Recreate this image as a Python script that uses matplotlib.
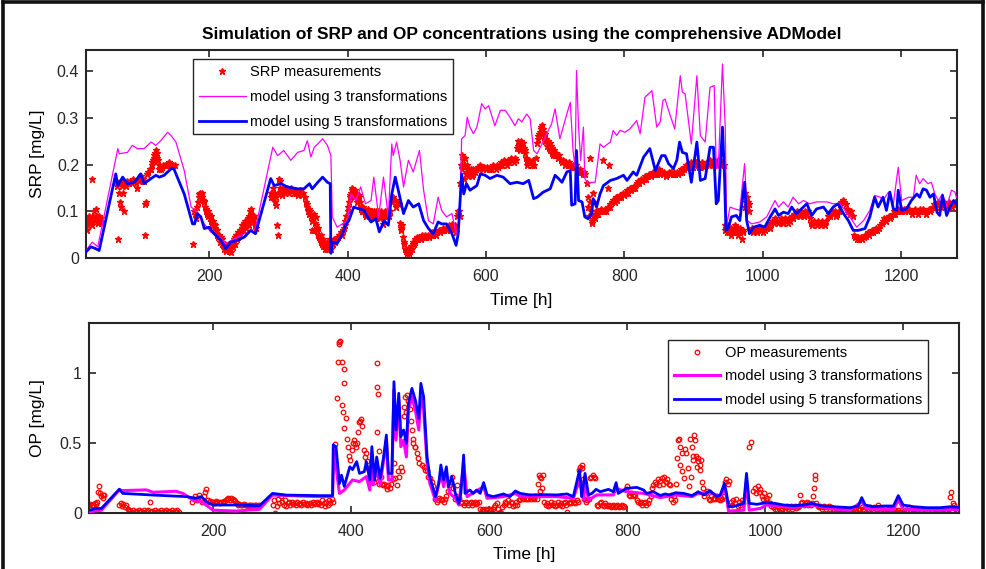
import numpy as np
import matplotlib
matplotlib.use("Agg")
import matplotlib.pyplot as plt
from matplotlib.lines import Line2D

plt.rcParams['font.family'] = ['Liberation Sans Narrow', 'Liberation Sans', 'DejaVu Sans']

# ---------------- data (time [h], value [mg/L]) ----------------
srp_measurements = [
(22,0.075),(23,0.06),(24,0.085),(25,0.07),(26,0.08),(27,0.09),(28,0.075),(29,0.085),(30,0.07),(31,0.17),(32,0.09),(33,0.085),(34,0.1),(35,0.08),(36,0.105),(37,0.085),(38,0.09),(39,0.075),(40,0.085),(41,0.09),(42,0.08),(43,0.075),(44,0.085),
(66,0.165),(67,0.155),(68,0.04),(69,0.14),(70,0.16),(71,0.12),(72,0.165),(73,0.11),(74,0.155),(75,0.16),(76,0.14),(77,0.1),(78,0.16),(80,0.155),(81,0.165),(82,0.16),(84,0.16),(86,0.165),(88,0.16),(90,0.17),(92,0.165),(94,0.16),(96,0.15),(98,0.165),(100,0.17),(102,0.175),(104,0.17),(106,0.165),(107,0.115),(108,0.05),(109,0.12),(110,0.18),(112,0.185),(114,0.19),(116,0.19),(117,0.2),(118,0.205),(119,0.21),(120,0.215),(121,0.22),(122,0.225),(123,0.23),(124,0.225),(125,0.215),(126,0.21),(127,0.2),(128,0.19),(130,0.19),(132,0.195),(134,0.2),(136,0.2),(138,0.2),(140,0.2),(142,0.205),(144,0.2),(146,0.2),(148,0.2),(150,0.2),
(176,0.03),(178,0.1),(180,0.095),(181,0.085),(182,0.11),(184,0.12),(185,0.13),(186,0.137),(187,0.14),(188,0.135),(189,0.14),(190,0.13),(191,0.125),(192,0.12),(193,0.123),(194,0.11),(195,0.1),(196,0.105),(197,0.095),(198,0.09),(199,0.1),(200,0.095),(201,0.085),(202,0.08),(203,0.09),(204,0.075),(205,0.07),(206,0.08),(207,0.073),(208,0.065),(209,0.07),(210,0.06),(211,0.05),(212,0.06),(213,0.045),(214,0.05),(215,0.04),(216,0.035),(217,0.045),(218,0.03),(219,0.04),(220,0.03),(221,0.025),(222,0.02),(223,0.03),(224,0.02),(225,0.015),(226,0.025),(227,0.02),(228,0.03),(229,0.015),(230,0.02),(231,0.013),(232,0.025),(234,0.024),(235,0.035),(236,0.04),(237,0.03),(238,0.045),(239,0.05),(240,0.04),(241,0.045),(242,0.055),(243,0.05),(244,0.06),(245,0.055),(246,0.06),(247,0.065),(248,0.07),(249,0.06),(250,0.075),(251,0.07),(252,0.08),(253,0.065),(254,0.075),(255,0.08),(256,0.085),(257,0.07),(258,0.09),(259,0.1),(260,0.105),(261,0.095),(262,0.08),(263,0.09),(264,0.085),(265,0.09),(266,0.075),(267,0.07),(268,0.065),
(289,0.13),(290,0.14),(291,0.135),(292,0.13),(293,0.15),(294,0.14),(295,0.12),(296,0.13),(297,0.113),(298,0.07),(299,0.05),(300,0.14),(301,0.17),(302,0.165),(303,0.15),(304,0.145),(305,0.14),(306,0.135),(307,0.15),(308,0.145),(310,0.14),(312,0.15),(314,0.145),(316,0.14),(318,0.15),(320,0.145),(322,0.14),(324,0.145),(326,0.14),(328,0.135),(330,0.14),(332,0.145),(334,0.135),(336,0.14),(338,0.13),(340,0.12),(341,0.11),(342,0.115),(343,0.1),(344,0.105),(345,0.095),(346,0.1),(347,0.09),(348,0.06),(349,0.08),(350,0.085),(351,0.095),(352,0.06),(353,0.075),(354,0.088),(355,0.07),(356,0.06),(357,0.05),(358,0.065),(359,0.045),(360,0.04),(361,0.05),(362,0.035),(363,0.03),(364,0.04),(365,0.025),(366,0.035),(367,0.02),(368,0.03),(369,0.025),(370,0.035),(371,0.02),(372,0.03),(373,0.025),(374,0.03),(375,0.04),(376,0.02),(377,0.03),(378,0.035),(379,0.03),(380,0.04),(382,0.035),(384,0.04),(386,0.045),(388,0.05),(390,0.055),(392,0.05),(394,0.06),(395,0.065),(396,0.07),(397,0.08),(398,0.09),(400,0.1),(401,0.11),(402,0.12),(403,0.13),(404,0.135),(405,0.14),(406,0.145),(407,0.15),(408,0.14),(409,0.135),(410,0.13),(411,0.145),(412,0.14),(413,0.13),(414,0.12),(415,0.125),(416,0.13),(417,0.135),(418,0.12),(419,0.11),(420,0.105),(421,0.1),(422,0.11),(423,0.1),(424,0.105),(425,0.095),(426,0.1),(427,0.09),(428,0.095),(429,0.1),(430,0.105),(431,0.09),(432,0.1),(433,0.095),(434,0.09),(435,0.1),(436,0.095),(437,0.09),(438,0.1),(439,0.09),(440,0.095),(441,0.1),(442,0.09),(443,0.095),(444,0.1),(445,0.095),(446,0.09),(447,0.085),(448,0.095),(449,0.1),(450,0.09),(451,0.095),(452,0.073),(453,0.09),(454,0.1),(455,0.095),(456,0.09),(457,0.1),(458,0.095),(460,0.09),(462,0.1),
(464,0.12),(466,0.13),(468,0.125),(470,0.11),(472,0.12),(474,0.115),(476,0.075),(477,0.065),(478,0.06),(479,0.07),(480,0.045),(481,0.035),(482,0.03),(483,0.02),(484,0.015),(485,0.02),(486,0.01),(487,0.015),(488,0.02),(489,0.01),(490,0.015),(491,0.02),(492,0.025),(493,0.02),(494,0.03),(495,0.035),(496,0.03),(497,0.04),(498,0.035),(499,0.04),(500,0.045),(502,0.04),(504,0.045),(506,0.04),(508,0.05),(510,0.045),(512,0.05),(514,0.045),(516,0.05),(518,0.045),(520,0.05),(522,0.055),(524,0.05),(526,0.055),(528,0.05),(530,0.055),(532,0.06),(534,0.055),(536,0.06),(538,0.065),(540,0.06),(542,0.065),(544,0.06),(546,0.07),(548,0.06),(550,0.065),(551,0.073),(552,0.06),(554,0.065),(556,0.07),(557,0.055),(558,0.09),(559,0.1),(560,0.095),(561,0.1),(562,0.09),
(563,0.16),(564,0.2),(565,0.22),(566,0.19),(567,0.21),(568,0.17),(569,0.2),(570,0.215),(571,0.18),(572,0.2),(573,0.19),(574,0.175),(575,0.185),(576,0.19),(577,0.18),(578,0.19),(579,0.185),(580,0.175),(581,0.18),(582,0.19),(584,0.185),(586,0.19),(588,0.195),(590,0.19),(592,0.2),(594,0.195),(596,0.19),(598,0.195),(600,0.19),(602,0.195),(604,0.19),(606,0.195),(608,0.19),(610,0.2),(612,0.195),(614,0.19),(616,0.2),(618,0.195),(620,0.2),(622,0.205),(624,0.2),(626,0.21),(628,0.205),(630,0.2),(632,0.21),(634,0.205),(636,0.215),(638,0.21),(640,0.205),(642,0.215),(644,0.21),(645,0.235),(646,0.24),(647,0.25),(648,0.235),(649,0.245),(650,0.23),(651,0.25),(652,0.24),(653,0.23),(654,0.245),(655,0.235),(656,0.23),(657,0.225),(658,0.215),(659,0.21),(660,0.2),(662,0.21),(664,0.205),(666,0.2),(668,0.21),(670,0.2),(672,0.215),(674,0.245),(675,0.255),(676,0.26),(677,0.265),(678,0.27),(679,0.275),(680,0.28),(681,0.285),(682,0.275),(683,0.27),(684,0.26),(685,0.265),(686,0.25),(687,0.255),(688,0.245),(689,0.24),(690,0.25),(691,0.235),(692,0.245),(693,0.23),(694,0.24),(695,0.225),(696,0.235),(697,0.22),(698,0.23),(699,0.225),(700,0.22),(702,0.225),(704,0.215),(706,0.22),(708,0.21),(710,0.205),(712,0.21),(714,0.2),(716,0.205),(718,0.2),(720,0.205),(722,0.2),(724,0.195),(726,0.2),(728,0.195),(730,0.2),(732,0.19),(734,0.185),(736,0.19),(738,0.185),(740,0.18),(742,0.185),(744,0.18),(746,0.16),(747,0.13),(748,0.11),(749,0.09),(750,0.215),(751,0.12),(752,0.1),(753,0.08),(754,0.075),(755,0.14),(756,0.09),(757,0.12),(758,0.085),(759,0.1),(760,0.095),
(761,0.1),(762,0.095),(764,0.1),(766,0.105),(768,0.1),(770,0.21),(771,0.1),(772,0.105),(774,0.1),(776,0.11),(777,0.15),(778,0.2),(779,0.11),(780,0.115),(782,0.12),(784,0.125),(786,0.12),(788,0.13),(790,0.125),(792,0.13),(794,0.135),(796,0.13),(798,0.14),(800,0.135),(802,0.14),(804,0.145),(806,0.14),(808,0.15),(810,0.145),(812,0.15),(814,0.155),(816,0.15),(818,0.16),(820,0.165),(822,0.16),(824,0.17),(826,0.165),(828,0.17),(830,0.175),(832,0.17),(834,0.175),(836,0.18),(838,0.175),(840,0.18),(842,0.185),(844,0.18),(846,0.185),(848,0.18),(850,0.19),(852,0.18),(854,0.185),(856,0.18),(858,0.185),(860,0.175),(862,0.18),(864,0.185),(866,0.18),(868,0.185),(870,0.18),(872,0.185),(874,0.18),(876,0.185),(878,0.18),(880,0.185),(882,0.19),(884,0.185),(886,0.19),(888,0.195),(890,0.2),(892,0.195),(894,0.2),(896,0.205),(898,0.2),(900,0.195),(902,0.2),(904,0.205),(906,0.2),(908,0.195),(910,0.2),(912,0.205),(914,0.2),(916,0.195),(918,0.2),(920,0.205),(922,0.2),(924,0.21),(926,0.205),(928,0.2),(930,0.21),(932,0.205),(934,0.2),(936,0.21),(938,0.205),(940,0.2),(942,0.205),(944,0.2),
(945,0.07),(946,0.06),(947,0.065),(948,0.055),(949,0.07),(950,0.06),(951,0.065),(952,0.055),(953,0.06),(954,0.065),(955,0.05),(956,0.06),(957,0.055),(958,0.065),(959,0.06),(960,0.07),(961,0.065),(962,0.055),(963,0.06),(964,0.065),(965,0.05),(966,0.06),(967,0.065),(968,0.055),(970,0.041),(971,0.06),(972,0.055),(974,0.11),(975,0.14),(976,0.12),(977,0.13),(978,0.11),(979,0.12),(980,0.1),(981,0.115),(982,0.06),(984,0.065),(986,0.055),(988,0.06),(990,0.065),(992,0.055),(994,0.06),(996,0.065),(998,0.06),(1000,0.055),(1002,0.065),(1004,0.06),(1006,0.065),(1008,0.07),(1010,0.065),(1012,0.075),(1014,0.08),(1016,0.075),(1018,0.085),(1020,0.08),(1022,0.075),(1024,0.08),(1026,0.085),(1028,0.08),(1030,0.075),(1032,0.085),(1034,0.08),(1036,0.075),(1038,0.085),(1040,0.08),(1042,0.09),(1044,0.085),(1046,0.095),(1048,0.09),(1050,0.1),(1052,0.095),(1054,0.09),(1056,0.1),(1058,0.095),(1060,0.09),(1062,0.1),(1064,0.095),(1066,0.1),(1068,0.085),(1070,0.075),(1072,0.07),(1074,0.08),(1076,0.075),(1078,0.07),(1080,0.08),(1082,0.075),(1084,0.07),(1086,0.08),(1088,0.075),(1090,0.07),(1092,0.08),(1094,0.09),(1096,0.095),(1098,0.09),(1100,0.1),(1102,0.095),(1104,0.1),(1106,0.09),(1108,0.095),(1110,0.1),(1112,0.115),(1114,0.12),(1116,0.125),(1118,0.12),(1120,0.115),(1122,0.105),(1124,0.1),(1126,0.095),(1128,0.1),(1130,0.09),(1132,0.05),(1134,0.045),(1136,0.04),(1138,0.045),(1140,0.04),(1142,0.045),(1144,0.04),(1146,0.045),(1148,0.05),(1150,0.048),(1152,0.055),(1154,0.05),(1156,0.055),(1158,0.06),(1160,0.055),(1162,0.06),(1164,0.065),(1166,0.06),(1168,0.065),(1170,0.07),(1172,0.075),(1174,0.08),(1176,0.085),(1178,0.08),(1180,0.085),(1182,0.09),(1184,0.085),(1186,0.09),(1188,0.095),(1190,0.1),(1192,0.095),(1194,0.1),(1196,0.105),(1198,0.1),(1200,0.105),(1202,0.1),(1204,0.105),(1206,0.1),(1208,0.105),(1210,0.1),(1212,0.105),(1214,0.1),(1216,0.095),(1218,0.1),(1220,0.105),(1222,0.1),(1224,0.095),(1226,0.1),(1228,0.105),(1230,0.1),(1232,0.105),(1234,0.1),(1236,0.095),(1238,0.1),(1240,0.105),(1242,0.1),(1244,0.105),(1246,0.11),(1248,0.115),(1250,0.11),(1252,0.115),(1254,0.12),(1256,0.115),(1258,0.11),(1260,0.115),(1262,0.12),(1264,0.115),(1266,0.11),(1268,0.115),(1270,0.12),(1272,0.115),(1274,0.11),(1276,0.115),(1278,0.12),(1280,0.115),
]

srp_model_3 = [
(22,0.016),(31,0.034),(39,0.024),(68,0.234),(70,0.223),(82,0.226),(89,0.241),(96,0.234),(106,0.234),(116,0.248),(123,0.241),(130,0.251),(140,0.269),(145,0.262),(152,0.248),(164,0.187),(174,0.109),(183,0.098),(193,0.073),(202,0.056),(212,0.048),(224,0.031),(236,0.041),(251,0.052),(267,0.063),(292,0.237),(299,0.219),(308,0.23),(318,0.209),(328,0.226),(337,0.23),(342,0.251),(347,0.216),(352,0.237),(357,0.244),(364,0.255),(371,0.241),(376,0.219),(378,0.088),(385,0.066),(400,0.08),(405,0.137),(412,0.123),(419,0.152),(426,0.116),(434,0.123),(438,0.173),(445,0.088),(452,0.173),(459,0.088),(464,0.244),(466,0.219),(471,0.248),(476,0.209),(481,0.152),(488,0.209),(495,0.184),(504,0.23),(510,0.145),(517,0.08),(524,0.073),(531,0.13),(536,0.102),(543,0.088),(551,0.095),(557,0.052),(562,0.08),(565,0.255),(570,0.262),(573,0.301),(577,0.28),(582,0.266),(587,0.28),(594,0.33),(599,0.319),(604,0.326),(613,0.283),(621,0.316),(628,0.316),(635,0.301),(642,0.283),(647,0.298),(652,0.291),(659,0.308),(664,0.298),(669,0.23),(674,0.223),(681,0.244),(688,0.266),(695,0.287),(700,0.319),(707,0.255),(717,0.308),(722,0.333),(726,0.23),(729,0.194),(731,0.401),(734,0.28),(737,0.209),(741,0.28),(743,0.17),(748,0.159),(753,0.162),(758,0.162),(765,0.244),(770,0.237),(780,0.248),(784,0.273),(789,0.262),(794,0.273),(801,0.269),(808,0.276),(818,0.294),(823,0.266),(830,0.344),(840,0.358),(847,0.28),(852,0.291),(856,0.337),(859,0.34),(864,0.316),(873,0.276),(881,0.39),(884,0.355),(888,0.351),(897,0.244),(905,0.39),(910,0.262),(917,0.248),(924,0.365),(930,0.369),(933,0.191),(936,0.194),(942,0.415),(946,0.28),(948,0.07),(953,0.109),(960,0.105),(967,0.102),(974,0.202),(978,0.08),(984,0.073),(996,0.077),(1006,0.088),(1013,0.109),(1018,0.123),(1023,0.109),(1030,0.12),(1037,0.109),(1044,0.13),(1052,0.116),(1059,0.123),(1068,0.116),(1078,0.12),(1093,0.12),(1102,0.116),(1112,0.116),(1119,0.102),(1126,0.088),(1136,0.066),(1146,0.08),(1155,0.102),(1162,0.134),(1170,0.13),(1174,0.123),(1182,0.141),(1189,0.116),(1196,0.194),(1201,0.123),(1211,0.13),(1218,0.13),(1222,0.177),(1227,0.159),(1232,0.17),(1239,0.159),(1244,0.162),(1249,0.137),(1254,0.123),(1260,0.137),(1266,0.109),(1273,0.145),(1278,0.141),(1280,0.13),
]

srp_model_5 = [
(22,0.013),(29,0.024),(36,0.02),(41,0.016),(65,0.18),(68,0.155),(75,0.173),(82,0.159),(92,0.162),(96,0.17),(101,0.18),(106,0.159),(116,0.17),(123,0.177),(128,0.173),(135,0.177),(145,0.191),(149,0.191),(152,0.18),(164,0.137),(176,0.073),(179,0.073),(183,0.095),(188,0.088),(193,0.063),(200,0.066),(207,0.052),(217,0.038),(224,0.02),(231,0.034),(241,0.038),(251,0.045),(260,0.059),(267,0.052),(289,0.17),(294,0.155),(304,0.159),(313,0.152),(328,0.148),(337,0.148),(345,0.159),(349,0.148),(357,0.162),(364,0.173),(371,0.162),(375,0.159),(376,0.01),(378,0.034),(385,0.031),(393,0.052),(397,0.07),(402,0.08),(409,0.109),(417,0.105),(424,0.102),(429,0.088),(434,0.077),(441,0.084),(446,0.056),(453,0.08),(459,0.07),(464,0.137),(469,0.173),(474,0.141),(481,0.095),(488,0.123),(495,0.109),(503,0.116),(510,0.08),(517,0.063),(524,0.052),(531,0.077),(536,0.073),(543,0.073),(551,0.052),(557,0.027),(560,0.052),(565,0.18),(568,0.137),(572,0.159),(577,0.145),(587,0.155),(592,0.18),(599,0.177),(606,0.17),(616,0.177),(625,0.173),(635,0.159),(645,0.162),(654,0.159),(662,0.166),(669,0.127),(674,0.13),(683,0.141),(693,0.148),(700,0.177),(705,0.17),(710,0.162),(717,0.184),(722,0.187),(724,0.113),(729,0.116),(731,0.23),(734,0.123),(739,0.12),(743,0.088),(748,0.084),(753,0.095),(755,0.127),(760,0.109),(765,0.137),(770,0.155),(780,0.166),(789,0.17),(799,0.177),(804,0.166),(813,0.184),(818,0.177),(828,0.216),(837,0.234),(845,0.187),(854,0.219),(859,0.219),(864,0.202),(871,0.191),(876,0.209),(880,0.248),(884,0.226),(890,0.223),(897,0.162),(905,0.248),(910,0.166),(917,0.17),(924,0.237),(929,0.237),(933,0.116),(936,0.123),(942,0.28),(945,0.173),(947,0.059),(950,0.063),(955,0.088),(962,0.091),(967,0.08),(974,0.162),(977,0.08),(981,0.052),(987,0.066),(996,0.07),(1003,0.066),(1011,0.088),(1018,0.105),(1023,0.091),(1030,0.098),(1037,0.095),(1042,0.109),(1049,0.095),(1056,0.105),(1064,0.116),(1071,0.091),(1078,0.105),(1088,0.109),(1095,0.095),(1102,0.109),(1109,0.116),(1117,0.095),(1124,0.08),(1131,0.059),(1138,0.059),(1148,0.063),(1155,0.088),(1162,0.13),(1167,0.109),(1174,0.13),(1179,0.102),(1184,0.141),(1189,0.105),(1194,0.102),(1196,0.145),(1201,0.102),(1208,0.105),(1215,0.123),(1223,0.137),(1227,0.13),(1232,0.148),(1237,0.145),(1242,0.13),(1247,0.137),(1252,0.098),(1256,0.091),(1260,0.134),(1266,0.091),(1271,0.109),(1276,0.123),(1280,0.116),
]

op_measurements = [
(20,0.06),(22,0.065),(24,0.055),(26,0.06),(28,0.07),(30,0.065),(32,0.075),(33,0.15),(35,0.19),(36,0.14),(38,0.12),(40,0.13),(41,0.11),(42,0.13),
(64,0.06),(66,0.07),(68,0.05),(70,0.065),(72,0.04),(74,0.055),(76,0.03),(78,0.02),(80,0.015),(82,0.01),(84,0.02),(86,0.01),(88,0.015),(90,0.005),(92,0.02),(94,0.01),(96,0.015),(98,0.005),(100,0.02),(102,0.01),(104,0.015),(106,0.02),(108,0.08),(110,0.01),(112,0.015),(114,0.005),(116,0.02),(118,0.01),(120,0.015),(122,0.005),(124,0.02),(126,0.01),(128,0.015),(130,0.005),(132,0.02),(134,0.01),(136,0.015),(138,0.005),(140,0.02),(142,0.01),(144,0.015),(146,0.005),(148,0.02),(150,0.01),
(170,0.08),(172,0.1),(174,0.12),(176,0.09),(178,0.11),(180,0.13),(182,0.1),(184,0.08),(186,0.12),(188,0.15),(190,0.17),(192,0.09),(194,0.08),(196,0.085),(198,0.075),(200,0.08),(202,0.07),(204,0.085),(206,0.075),(208,0.08),(210,0.07),(212,0.075),(214,0.08),(216,0.085),(218,0.09),(220,0.1),(222,0.11),(224,0.095),(226,0.105),(228,0.1),(230,0.09),(232,0.085),(234,0.07),(236,0.06),(238,0.065),(240,0.055),(242,0.06),(244,0.065),(246,0.055),(248,0.06),(250,0.05),(252,0.06),(254,0.055),(256,0.06),(258,0.05),(260,0.055),(262,0.06),(264,0.05),(266,0.055),
(286,0.06),(288,0.09),(290,0.0),(292,0.05),(294,0.1),(296,0.07),(298,0.12),(300,0.08),(302,0.06),(304,0.09),(306,0.05),(308,0.07),(310,0.08),(312,0.06),(314,0.075),(316,0.065),(318,0.07),(320,0.06),(322,0.075),(324,0.065),(326,0.07),(328,0.06),(330,0.075),(332,0.065),(334,0.07),(336,0.06),(338,0.065),(340,0.07),(342,0.06),(344,0.075),(346,0.065),(348,0.07),(350,0.08),(352,0.065),(354,0.07),(356,0.06),(358,0.09),(360,0.07),(362,0.05),(364,0.08),(366,0.06),(368,0.09),(370,0.07),(372,0.1),(374,0.08),
(376,0.49),(379,0.82),(381,1.08),(382,1.21),(383,1.22),(384,1.23),(386,1.08),(387,0.77),(388,0.72),(389,1.03),(389.5,0.61),(390,0.93),(392,0.68),(394,0.53),(395,0.47),(397,0.41),(399,0.38),(401,0.45),(402,0.5),(404,0.52),(405,0.49),(407,0.47),(409,0.5),(410,0.58),(412,0.65),(413,0.66),(414,0.67),(416,0.62),(418,0.45),(420,0.4),(421,0.43),(423,0.37),(425,0.32),(426,0.31),(428,0.28),(429,0.27),(431,0.24),(433,0.22),(435,0.25),(437,0.58),(437.5,0.9),(438,1.07),(439,0.85),(440,0.21),(441,0.44),(443,0.26),(445,0.21),(446,0.2),(448,0.21),(450,0.19),(452,0.17),(454,0.2),(456,0.18),(458,0.21),(460,0.24),(462,0.355),(464,0.25),(466,0.2),(468,0.3),(470,0.26),(472,0.33),(474,0.3),(476,0.69),(477,0.76),(478,0.83),(480,0.72),(481,0.84),(483,0.8),(485,0.74),(487,0.66),(488,0.59),(489,0.53),(490,0.5),(492,0.47),(493,0.47),(495,0.43),(497,0.39),(499,0.355),(502,0.34),(505,0.33),(507,0.31),(510,0.3),(512,0.26),(514,0.25),(517,0.22),(519,0.19),
(522,0.1),(524,0.08),(526,0.09),(528,0.11),(530,0.1),(532,0.09),(534,0.08),(536,0.1),(538,0.12),(540,0.16),(542,0.2),(544,0.22),(546,0.26),(548,0.18),(550,0.1),(552,0.12),(553,0.2),(555,0.09),(557,0.11),(559,0.07),(561,0.08),(563,0.06),(565,0.07),(567,0.08),(569,0.06),(571,0.07),(573,0.08),(575,0.06),(577,0.07),(579,0.08),(581,0.065),(583,0.07),(585,0.075),(587,0.03),(589,0.02),(591,0.025),(593,0.015),(595,0.03),(597,0.02),(599,0.01),(601,0.03),(603,0.02),(605,0.025),(607,0.04),(609,0.06),(611,0.07),(613,0.03),(615,0.01),(617,0.0),(619,0.04),(621,0.06),(623,0.08),(625,0.07),(627,0.09),(629,0.06),(631,0.08),(633,0.07),(635,0.05),(637,0.06),(639,0.08),(641,0.06),(643,0.09),(645,0.1),(647,0.11),(649,0.1),(651,0.12),(653,0.1),(655,0.11),(657,0.1),(659,0.12),(661,0.1),(663,0.11),(665,0.1),(667,0.12),(669,0.1),(671,0.21),(672,0.27),(673,0.16),(674,0.26),(675,0.25),(676,0.18),(678,0.27),(680,0.08),(682,0.06),(684,0.07),(686,0.05),(688,0.06),(690,0.08),(692,0.06),(694,0.07),(696,0.05),(698,0.06),(700,0.08),(702,0.06),(704,0.07),(706,0.05),(708,0.07),(710,0.08),(712,0.06),(713,0.01),(715,0.07),(717,0.08),(719,0.07),(721,0.09),(723,0.08),(725,0.07),(727,0.09),(729,0.08),(730,0.31),(732,0.33),(734,0.34),(735,0.32),(736,0.24),(738,0.1),(740,0.08),(742,0.09),(744,0.1),(746,0.25),(748,0.26),(750,0.27),(752,0.26),(754,0.25),(756,0.06),(758,0.05),(760,0.07),(762,0.08),(764,0.06),(766,0.05),(768,0.07),(770,0.06),(772,0.05),(774,0.06),(776,0.04),(778,0.05),(780,0.06),(782,0.04),(784,0.05),(786,0.06),(788,0.04),(790,0.05),(792,0.06),(794,0.04),(796,0.05),(798,0.17),(800,0.19),(802,0.13),(804,0.12),(806,0.14),(808,0.13),(810,0.12),(812,0.13),(814,0.09),(816,0.08),(818,0.07),(820,0.08),(822,0.06),(824,0.07),(826,0.08),(828,0.06),(830,0.07),(832,0.09),(834,0.12),(836,0.18),(838,0.2),(840,0.22),(842,0.21),(844,0.24),(846,0.2),(848,0.23),(850,0.25),(852,0.21),(854,0.26),(856,0.22),(858,0.24),(860,0.21),(862,0.2),(863,0.1),(864,0.13),(866,0.08),(868,0.12),(870,0.09),(871,0.21),
(872,0.39),(873,0.52),(875,0.53),(876,0.47),(877,0.34),(879,0.43),(880,0.3),(882,0.25),(884,0.46),(886,0.43),(888,0.32),(890,0.19),(891,0.53),(892,0.26),(894,0.47),(895,0.38),(896,0.41),(897,0.56),(898,0.52),(900,0.41),(901,0.33),(902,0.39),(903,0.37),(905,0.34),(906,0.31),(907,0.38),(908,0.22),(910,0.18),
(912,0.12),(914,0.14),(916,0.16),(918,0.1),(920,0.09),(922,0.12),(924,0.1),(926,0.11),(928,0.1),(930,0.12),(932,0.1),(934,0.09),(936,0.11),(938,0.1),(940,0.12),(942,0.22),(944,0.24),(946,0.21),(948,0.23),(950,0.08),(952,0.06),(954,0.09),(956,0.07),(958,0.1),(960,0.05),(962,0.08),(964,0.06),(966,0.09),(968,0.07),
(976,0.47),(979,0.51),(983,0.16),(985,0.18),(987,0.14),(989,0.19),(991,0.15),(993,0.17),(995,0.12),(997,0.1),(999,0.14),(1001,0.09),(1003,0.11),(1005,0.13),(1007,0.07),(1009,0.05),(1011,0.04),(1013,0.06),(1015,0.03),(1017,0.02),(1019,0.04),(1021,0.01),(1023,0.03),(1025,0.02),(1027,0.04),(1029,0.02),(1031,0.05),(1033,0.03),(1035,0.04),(1037,0.05),(1039,0.03),(1041,0.04),(1043,0.05),(1045,0.035),(1047,0.045),(1049,0.05),(1050,0.13),(1052,0.07),(1054,0.08),(1056,0.06),(1058,0.07),(1060,0.08),(1062,0.06),(1064,0.07),(1066,0.06),(1068,0.07),(1070,0.12),(1071,0.18),(1072,0.24),(1073,0.27),(1074,0.07),(1076,0.05),(1078,0.04),(1080,0.05),(1082,0.03),(1084,0.04),(1086,0.05),(1088,0.03),(1090,0.04),(1092,0.05),(1094,0.03),(1096,0.04),(1098,0.03),(1100,0.02),(1102,0.01),(1104,0.03),(1106,0.02),(1108,0.0),(1110,0.02),(1112,0.01),(1114,0.03),(1116,0.02),(1118,0.01),(1120,0.02),(1122,0.0),(1124,0.03),(1126,0.02),(1128,0.01),(1130,0.02),(1132,0.01),(1134,0.03),(1136,0.02),(1138,0.03),(1140,0.04),(1142,0.03),(1144,0.02),(1146,0.04),(1148,0.03),(1150,0.02),(1152,0.04),(1154,0.03),(1156,0.02),(1158,0.04),(1160,0.03),(1162,0.02),(1164,0.057),(1166,0.02),(1168,0.01),(1170,0.03),(1172,0.02),(1174,0.01),(1176,0.02),(1178,0.03),(1180,0.01),(1182,0.02),(1184,0.03),(1186,0.01),(1188,0.02),(1190,0.005),(1192,0.02),(1194,0.01),(1196,0.0),(1198,0.02),(1200,0.01),(1202,0.005),(1204,0.02),(1206,0.01),(1208,0.04),(1210,0.01),(1212,0.02),(1214,0.005),(1216,0.015),(1218,0.01),(1220,0.02),(1222,0.005),(1224,0.015),(1226,0.01),(1228,0.02),(1230,0.005),(1232,0.015),(1234,0.01),(1236,0.02),(1238,0.005),(1240,0.015),(1242,0.01),(1244,0.02),(1246,0.005),(1248,0.015),(1250,0.01),(1252,0.02),(1254,0.005),(1256,0.015),(1258,0.01),(1260,0.02),(1262,0.01),(1264,0.02),(1266,0.03),(1268,0.117),(1270,0.15),(1272,0.07),(1274,0.06),(1276,0.01),(1278,0.02),(1280,0.01),(1282,0.02),
]

op_model_3 = [
(21,0.01),(38,0.02),(64,0.165),(69,0.16),(103,0.165),(113,0.148),(146,0.155),(156,0.14),(171,0.093),(183,0.08),(200,0.02),(233,0.014),(267,0.026),(286,0.128),(354,0.117),(373,0.117),(375,0.45),(383,0.14),(390,0.164),(402,0.236),(412,0.224),(422,0.26),(427,0.164),(430,0.4),(432,0.2),(437,0.33),(442,0.2),(451,0.52),(454,0.236),(459,0.236),(462,0.88),(465,0.52),(469,0.807),(472,0.474),(476,0.52),(480,0.4),(483,0.736),(488,0.831),(493,0.736),(498,0.593),(501,0.831),(505,0.736),(510,0.355),(514,0.212),(522,0.093),(530,0.283),(534,0.188),(538,0.283),(543,0.14),(551,0.105),(556,0.057),(563,0.355),(568,0.117),(592,0.188),(597,0.105),(621,0.117),(638,0.14),(645,0.117),(698,0.117),(722,0.105),(731,0.236),(737,0.093),(739,0.236),(744,0.093),(756,0.129),(780,0.129),(784,0.176),(799,0.152),(824,0.14),(848,0.11),(870,0.129),(894,0.117),(903,0.14),(920,0.145),(935,0.117),(941,0.176),(944,0.117),(947,0.014),(969,0.02),(973,0.224),(977,0.02),(993,0.033),(1002,0.057),(1041,0.04),(1068,0.057),(1099,0.029),(1123,0.02),(1140,0.081),(1147,0.029),(1186,0.026),(1193,0.093),(1200,0.029),(1234,0.02),(1283,0.026),
]

op_model_5 = [
(21,0.02),(30,0.033),(38,0.033),(64,0.17),(69,0.14),(113,0.128),(161,0.117),(175,0.105),(183,0.117),(190,0.08),(200,0.057),(233,0.057),(267,0.052),(286,0.14),(306,0.128),(354,0.124),(373,0.124),(374,0.486),(378,0.474),(383,0.21),(386,0.27),(390,0.19),(398,0.33),(402,0.31),(408,0.367),(412,0.283),(419,0.295),(422,0.367),(427,0.236),(430,0.474),(434,0.236),(437,0.4),(442,0.248),(447,0.4),(451,0.557),(454,0.283),(459,0.283),(462,0.938),(465,0.593),(469,0.855),(472,0.545),(476,0.593),(480,0.498),(483,0.783),(488,0.89),(493,0.807),(498,0.676),(501,0.926),(505,0.831),(510,0.4),(514,0.26),(522,0.117),(527,0.212),(530,0.343),(534,0.236),(538,0.33),(541,0.188),(546,0.26),(551,0.14),(556,0.069),(559,0.14),(563,0.414),(565,0.14),(572,0.164),(577,0.14),(582,0.164),(587,0.14),(592,0.217),(597,0.129),(606,0.117),(621,0.136),(630,0.117),(638,0.157),(645,0.14),(659,0.129),(679,0.131),(698,0.129),(713,0.136),(722,0.117),(731,0.307),(734,0.117),(739,0.283),(744,0.129),(749,0.14),(755,0.169),(761,0.152),(773,0.169),(780,0.152),(784,0.217),(787,0.14),(799,0.176),(814,0.183),(824,0.164),(828,0.14),(838,0.152),(848,0.125),(855,0.136),(862,0.129),(870,0.145),(882,0.14),(894,0.124),(903,0.152),(911,0.129),(920,0.16),(930,0.117),(935,0.129),(941,0.212),(944,0.14),(947,0.045),(959,0.052),(969,0.069),(973,0.283),(977,0.069),(988,0.062),(1002,0.074),(1014,0.069),(1027,0.057),(1041,0.052),(1056,0.057),(1068,0.069),(1080,0.052),(1099,0.045),(1123,0.038),(1135,0.05),(1140,0.11),(1145,0.057),(1157,0.045),(1172,0.05),(1186,0.05),(1193,0.124),(1200,0.057),(1215,0.045),(1234,0.038),(1254,0.038),(1268,0.045),(1281,0.04),
]

srp_yticks = [0, 0.1, 0.2, 0.3, 0.4]
srp_yticklabels = ["0", "0.1", "0.2", "0.3", "0.4"]
op_yticks = [0, 0.5, 1]
op_yticklabels = ["0", "0.5", "1"]
x_ticks = [200, 400, 600, 800, 1000, 1200]

title = "Simulation of SRP and OP concentrations using the comprehensive ADModel"
legend_top = ["SRP measurements", "model using 3 transformations", "model using 5 transformations"]
legend_bottom = ["OP measurements", "model using 3 transformations", "model using 5 transformations"]


def split(pairs):
    a = np.array(pairs, dtype=float)
    return a[:, 0], a[:, 1]


RED = '#FF0000'
MAG = '#FF00FF'
BLUE = '#0000FF'
DARK = '#262626'

W, H = 986, 569
fig = plt.figure(figsize=(W / 100, H / 100), dpi=100)
fig.patch.set_facecolor('white')

ax1 = fig.add_axes([86 / W, 1 - 258 / H, (957 - 86) / W, (258 - 50) / H])
ax2 = fig.add_axes([89 / W, 1 - 513 / H, (959 - 89) / W, (513 - 323) / H])

# --- top panel ---
t, v = split(srp_measurements)
ax1.plot(t, v, linestyle='none', marker='*', markersize=5, color=RED, mec=RED, label=legend_top[0], zorder=2)
t, v = split(srp_model_3)
ax1.plot(t, v, color=MAG, lw=0.9, label=legend_top[1], zorder=3)
t, v = split(srp_model_5)
ax1.plot(t, v, color=BLUE, lw=2.0, label=legend_top[2], zorder=4)
ax1.set_xlim(22, 1281)
ax1.set_ylim(0, 0.445)
ax1.set_yticks(srp_yticks)
ax1.set_yticklabels(srp_yticklabels)
ax1.set_title(title, fontsize=12.5, fontweight='bold', pad=8)
ax1.set_ylabel("SRP [mg/L]", fontsize=12.5)
ax1.set_xlabel("Time [h]", fontsize=12.5)
ax1.yaxis.set_label_coords(-0.047, 0.5)
ax1.xaxis.set_label_coords(0.5, -0.17)

# --- bottom panel ---
t, v = split(op_measurements)
ax2.plot(t, v, linestyle='none', marker='o', markersize=3.3, mfc='none', mec=RED, mew=0.9, label=legend_bottom[0], zorder=2)
t, v = split(op_model_3)
ax2.plot(t, v, color=MAG, lw=2.2, label=legend_bottom[1], zorder=3)
t, v = split(op_model_5)
ax2.plot(t, v, color=BLUE, lw=2.0, label=legend_bottom[2], zorder=4)
ax2.set_xlim(20, 1281)
ax2.set_ylim(0, 1.357)
ax2.set_yticks(op_yticks)
ax2.set_yticklabels(op_yticklabels)
ax2.set_ylabel("OP [mg/L]", fontsize=12.5)
ax2.set_xlabel("Time [h]", fontsize=12.5)
ax2.yaxis.set_label_coords(-0.0506, 0.5)
ax2.xaxis.set_label_coords(0.5, -0.18)

for ax in (ax1, ax2):
    ax.set_xticks(x_ticks)
    ax.tick_params(direction='in', length=5, width=1.2, top=True, right=True,
                   labelsize=11.5, colors=DARK, labelcolor=DARK)
    ax.tick_params(axis='x', pad=8)
    ax.tick_params(axis='y', pad=5)
    for s in ax.spines.values():
        s.set_linewidth(1.5)
        s.set_color(DARK)

leg1 = ax1.legend(loc='upper left', bbox_to_anchor=(0.123, 0.957), fontsize=10.5,
                  frameon=True, fancybox=False, handlelength=3.2, handletextpad=0.3,
                  labelspacing=0.75, borderpad=0.4, borderaxespad=0, numpoints=1)
leg1.get_frame().set_edgecolor(DARK)
leg1.get_frame().set_linewidth(1.0)
leg1.get_frame().set_alpha(1)

leg2 = ax2.legend(loc='upper left', bbox_to_anchor=(0.6655, 0.9105), fontsize=10.5,
                  frameon=True, fancybox=False, handlelength=3.2, handletextpad=0.3,
                  labelspacing=0.65, borderpad=0.4, borderaxespad=0, numpoints=1)
leg2.get_frame().set_edgecolor(DARK)
leg2.get_frame().set_linewidth(1.0)
leg2.get_frame().set_alpha(1)

# figure frame (left, top, right edges)
fig.add_artist(Line2D([2.5 / W, 2.5 / W], [0, 1 - 2 / H], transform=fig.transFigure, color='#111111', lw=2.6))
fig.add_artist(Line2D([2.5 / W, 983 / W], [1 - 2 / H, 1 - 2 / H], transform=fig.transFigure, color='#111111', lw=2.6))
fig.add_artist(Line2D([983 / W, 983 / W], [0, 1 - 2 / H], transform=fig.transFigure, color='#111111', lw=2.6))

fig.savefig('out.png', dpi=100)
